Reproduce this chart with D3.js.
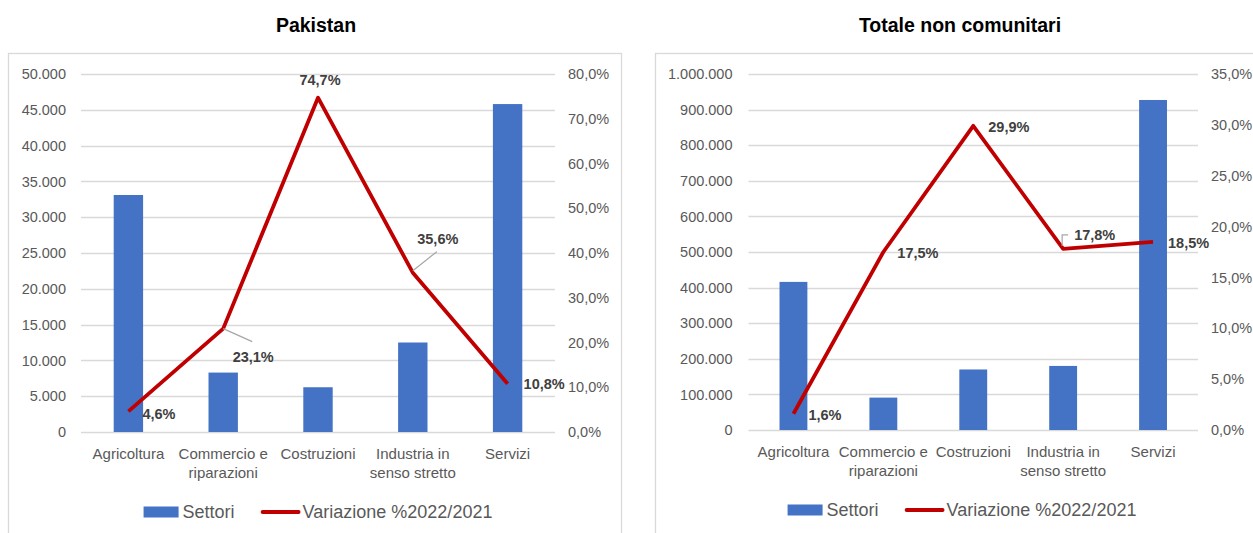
<!DOCTYPE html>
<html>
<head>
<meta charset="utf-8">
<script src="https://cdn.jsdelivr.net/npm/d3@7"></script>
<style>
body { margin: 0; background: #fff; }
svg { display: block; font-family: "Liberation Sans", Arial, sans-serif; }
</style>
</head>
<body>
<svg id="chart" width="1253" height="533"></svg>
<script>
// data
var categories = ["Agricoltura", "Commercio e riparazioni", "Costruzioni", "Industria in senso stretto", "Servizi"];
var categoryLines = [["Agricoltura"], ["Commercio e", "riparazioni"], ["Costruzioni"], ["Industria in", "senso stretto"], ["Servizi"]];
var seriesNames = ["Settori", "Variazione %2022/2021"];

var pakistanSettori = [33100, 8300, 6250, 12500, 45800];
var pakistanVariazione = [4.6, 23.1, 74.7, 35.6, 10.8];
var pakistanLeftTicks = [0, 5000, 10000, 15000, 20000, 25000, 30000, 35000, 40000, 45000, 50000];
var pakistanRightTicks = [0, 10, 20, 30, 40, 50, 60, 70, 80];

var totaleSettori = [416000, 91000, 170000, 180000, 927000];
var totaleVariazione = [1.6, 17.5, 29.9, 17.8, 18.5];
var totaleLeftTicks = [0, 100000, 200000, 300000, 400000, 500000, 600000, 700000, 800000, 900000, 1000000];
var totaleRightTicks = [0, 5, 10, 15, 20, 25, 30, 35];

var it = d3.formatLocale({decimal: ",", thousands: ".", grouping: [3], currency: ["€", ""]});
var fmtInt = it.format(",.0f");
var fmtPct = function (v) { return it.format(".1f")(v) + "%"; };

var svg = d3.select("#chart");
var blue = "#4472C4", red = "#C00000", grid = "#d9d9d9", axisText = "#595959", labelText = "#404040";

// label placement (offsets from the point, in px)
var pakistanLabels = [
    {dx: 14, dy: 2, anchor: "start"},
    {dx: 30, dy: 28, anchor: "middle", leader: [[0, 0], [29, 13]]},
    {dx: 2, dy: -18, anchor: "middle"},
    {dx: 25, dy: -34, anchor: "middle", leader: [[0, -2], [24, -21]]},
    {dx: 16, dy: 0, anchor: "start"}
];
var totaleLabels = [
    {dx: 15, dy: 1, anchor: "start"},
    {dx: 14, dy: 1, anchor: "start"},
    {dx: 15, dy: 1, anchor: "start"},
    {dx: 11, dy: -14, anchor: "start", leader: [[-1, -3], [-1, -14], [5, -14]]},
    {dx: 15, dy: 1, anchor: "start"}
];

function drawChart(cfg) {
    var g = svg.append("g");

    // frame
    g.append("rect")
        .attr("x", cfg.frame[0] + 0.5).attr("y", 53.5)
        .attr("width", cfg.frame[1] - cfg.frame[0]).attr("height", 520)
        .attr("fill", "none").attr("stroke", grid).attr("stroke-width", 1.3);

    // title
    g.append("text")
        .attr("x", cfg.titleX).attr("y", 31.5)
        .attr("text-anchor", "middle")
        .attr("font-size", "19.5px").attr("font-weight", "bold")
        .attr("fill", "#000")
        .text(cfg.title);

    var x = d3.scaleBand().domain(categories).range([cfg.left, cfg.right]).paddingInner(0.69).paddingOuter(0.345);
    var y = d3.scaleLinear().domain([0, d3.max(cfg.leftTicks)]).range([cfg.bottom, cfg.top]);
    var y2 = d3.scaleLinear().domain([0, d3.max(cfg.rightTicks)]).range([cfg.bottom, cfg.top]);

    // gridlines
    g.append("g").selectAll("line")
        .data(cfg.leftTicks)
        .enter().append("line")
        .attr("x1", cfg.left).attr("x2", cfg.right)
        .attr("y1", function (d) { return Math.round(y(d)) + 0.5; })
        .attr("y2", function (d) { return Math.round(y(d)) + 0.5; })
        .attr("stroke", grid).attr("stroke-width", 1.3);

    // axes
    var ax = g.append("g").attr("transform", "translate(" + cfg.left + ",0)")
        .call(d3.axisLeft(y).tickValues(cfg.leftTicks).tickFormat(fmtInt).tickSize(0).tickPadding(cfg.leftPad));
    var ax2 = g.append("g").attr("transform", "translate(" + cfg.right + ",0)")
        .call(d3.axisRight(y2).tickValues(cfg.rightTicks).tickFormat(fmtPct).tickSize(0).tickPadding(13));
    [ax, ax2].forEach(function (a) {
        a.select(".domain").remove();
        a.selectAll("text").attr("font-size", "14.5px").attr("fill", axisText)
            .attr("font-family", "Liberation Sans, Arial, sans-serif");
    });

    // bars
    g.append("g").selectAll("rect")
        .data(cfg.bars)
        .enter().append("rect")
        .attr("x", function (d, i) { return x(categories[i]); })
        .attr("width", x.bandwidth())
        .attr("y", function (d) { return y(d); })
        .attr("height", function (d) { return cfg.bottom - y(d); })
        .attr("fill", blue);

    // category labels
    var cat = g.append("g").selectAll("text")
        .data(categoryLines)
        .enter().append("text")
        .attr("text-anchor", "middle")
        .attr("font-size", "15px").attr("fill", axisText);
    cat.each(function (lines, i) {
        var t = d3.select(this);
        lines.forEach(function (l, j) {
            t.append("tspan")
                .attr("x", x(categories[i]) + x.bandwidth() / 2)
                .attr("y", cfg.bottom + 26.5 + j * 19.5)
                .text(l);
        });
    });

    // line
    var cx = function (i) { return x(categories[i]) + x.bandwidth() / 2; };
    var line = d3.line()
        .x(function (d, i) { return cx(i); })
        .y(function (d) { return y2(d); });
    g.append("path")
        .datum(cfg.line)
        .attr("d", line)
        .attr("fill", "none").attr("stroke", red)
        .attr("stroke-width", 3.8).attr("stroke-linejoin", "round");

    // leaders and data labels
    cfg.line.forEach(function (v, i) {
        var p = cfg.labels[i];
        var px = cx(i), py = y2(v);
        if (p.leader) {
            g.append("polyline")
                .attr("points", p.leader.map(function (q) { return (px + q[0]) + "," + (py + q[1]); }).join(" "))
                .attr("fill", "none").attr("stroke", "#a6a6a6").attr("stroke-width", 1.2);
        }
        g.append("text")
            .attr("x", px + p.dx).attr("y", py + p.dy)
            .attr("dy", "0.36em")
            .attr("text-anchor", p.anchor)
            .attr("font-size", "14.5px").attr("font-weight", "bold")
            .attr("fill", labelText)
            .text(fmtPct(v));
    });

    // legend
    var lg = g.append("g");
    var ly = cfg.legendY;
    var items = lg.append("g");
    items.append("rect").attr("x", 0).attr("y", ly - 5.5).attr("width", 35).attr("height", 11).attr("fill", blue);
    var t1 = items.append("text").attr("x", 39).attr("y", ly).attr("dy", "0.36em")
        .attr("font-size", "18px").attr("fill", axisText).text(seriesNames[0]);
    var x2 = 39 + t1.node().getComputedTextLength() + 28;
    items.append("line").attr("x1", x2).attr("x2", x2 + 36).attr("y1", ly).attr("y2", ly)
        .attr("stroke", red).attr("stroke-width", 3.8).attr("stroke-linecap", "round");
    var t2 = items.append("text").attr("x", x2 + 40).attr("y", ly).attr("dy", "0.36em")
        .attr("font-size", "18px").attr("fill", axisText).text(seriesNames[1]);
    var total = x2 + 40 + t2.node().getComputedTextLength();
    items.attr("transform", "translate(" + (cfg.legendCenter - total / 2) + ",0)");
}

drawChart({
    title: "Pakistan", titleX: 316, frame: [8, 621],
    left: 81, right: 555, top: 74, bottom: 432, leftPad: 15,
    leftTicks: pakistanLeftTicks, rightTicks: pakistanRightTicks,
    bars: pakistanSettori, line: pakistanVariazione, labels: pakistanLabels,
    legendY: 512, legendCenter: 318
});

drawChart({
    title: "Totale non comunitari", titleX: 960, frame: [655, 1262],
    left: 748.5, right: 1198, top: 74, bottom: 430, leftPad: 16,
    leftTicks: totaleLeftTicks, rightTicks: totaleRightTicks,
    bars: totaleSettori, line: totaleVariazione, labels: totaleLabels,
    legendY: 510, legendCenter: 962
});
</script>
</body>
</html>
